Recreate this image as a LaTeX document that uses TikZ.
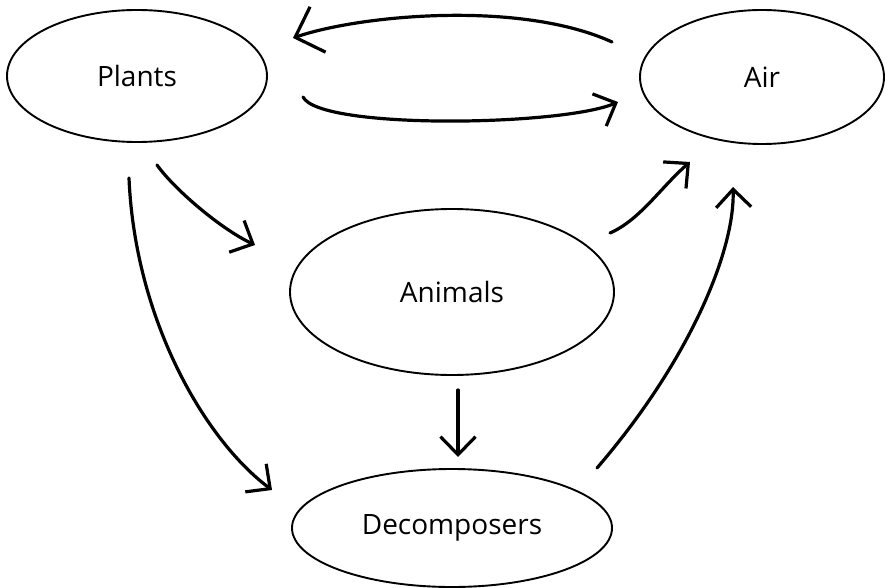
\documentclass[tikz,border=0pt]{standalone}
\usepackage{fontspec}
\setmainfont{Open Sans}
\usetikzlibrary{shapes.geometric,arrows.meta}
\tikzset{
  blob/.style={draw=black, line width=1.9pt, ellipse, inner sep=0pt,
    font=\fontsize{28}{32}\selectfont},
  flow/.style={draw=black, line width=3.2pt, line cap=round, line join=round,
    -{Straight Barb[length=18pt,width=35pt,line width=3.2pt]}},
  bigflow/.style={flow, -{Straight Barb[length=24pt,width=48pt,line width=3.2pt]}}
}
\begin{document}
\begin{tikzpicture}[x=1pt,y=-1pt]
\useasboundingbox (0,0) rectangle (885,588);
\node[blob, minimum width=260pt, minimum height=132pt] (plants) at (137,76) {Plants};
\node[blob, minimum width=244pt, minimum height=134pt] (air) at (762,77) {Air};
\node[blob, minimum width=324pt, minimum height=166pt] (animals) at (452,292) {Animals};
\node[blob, minimum width=320pt, minimum height=118pt] (decomp) at (452,528) {Decomposers};
% free ends of the hand-drawn connectors
\coordinate (ap0) at (612,42);  \coordinate (ap1) at (293,38);
\coordinate (pa0) at (303,97);  \coordinate (pa1) at (618,102);
\coordinate (pn0) at (157,165); \coordinate (pn1) at (255,245);
\coordinate (pd0) at (129,178); \coordinate (pd1) at (272,490);
\coordinate (na0) at (610,233); \coordinate (na1) at (690,162);
\coordinate (nd0) at (458,390); \coordinate (nd1) at (458,457);
\coordinate (da0) at (597,468); \coordinate (da1) at (733,187);
\draw[bigflow] (ap0) .. controls (520,0) and (360,15) .. (ap1);
\draw[flow] (pa0) .. controls (320,130) and (562,126) .. (pa1);
\draw[flow] (pn0) .. controls (175,190) and (221,229) .. (pn1);
\draw[flow] (pd0) .. controls (135,320) and (205,440) .. (pd1);
\draw[flow] (na0) .. controls (640,220) and (662,186) .. (na1);
\draw[flow] (nd0) -- (nd1);
\draw[flow] (da0) .. controls (690,360) and (735,250) .. (da1);
\end{tikzpicture}
\end{document}
